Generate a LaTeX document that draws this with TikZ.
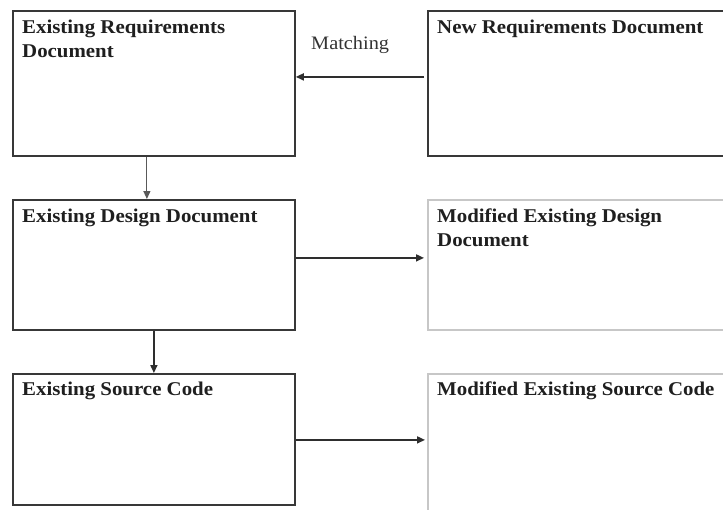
\documentclass[tikz,border=0pt]{standalone}
\usepackage{fontspec}
\setmainfont{Liberation Serif}[FakeStretch=1.07]
\usetikzlibrary{arrows.meta}
\begin{document}
\begin{tikzpicture}[x=1pt,y=-1pt,
  box/.style={draw=black!78,line width=1.8pt,rectangle,inner sep=0pt,anchor=north west,fill=white},
  lightbox/.style={draw=black!22,line width=1.8pt,rectangle,inner sep=0pt,anchor=north west,fill=white},
  txt/.style={anchor=base west,inner sep=0pt,align=left,font=\fontsize{19.5}{24}\selectfont\bfseries,text=black!88},
  lbl/.style={anchor=base west,inner sep=0pt,font=\fontsize{19}{24}\selectfont,text=black!80},
  arr/.style={draw=black!82,line width=1.6pt,-{Triangle[length=8pt,width=7pt]}}]
\useasboundingbox (0,0) rectangle (723,509);
\fill[white] (0,0) rectangle (723,509);
% boxes
\node[box,minimum width=282pt,minimum height=145pt] (req) at (12,10) {};
\node[box,minimum width=310pt,minimum height=145pt] (newreq) at (427,10) {};
\node[box,minimum width=282pt,minimum height=130pt] (design) at (12,199) {};
\node[lightbox,minimum width=310pt,minimum height=130pt] (mdesign) at (427,199) {};
\node[box,minimum width=282pt,minimum height=131pt] (source) at (12,373) {};
\node[lightbox,minimum width=310pt,minimum height=150pt] (msource) at (427,373) {};
% texts (base anchor of a two-line node is its last line)
\node[txt] (reqT) at ([xshift=10pt,yshift=-47pt]req.north west) {Existing Requirements\\Document};
\node[txt] (newreqT) at ([xshift=10pt,yshift=-23pt]newreq.north west) {New Requirements Document};
\node[txt] (designT) at ([xshift=10pt,yshift=-23pt]design.north west) {Existing Design Document};
\node[txt] (mdesignT) at ([xshift=10pt,yshift=-47pt]mdesign.north west) {Modified Existing Design\\Document};
\node[txt] (sourceT) at ([xshift=10pt,yshift=-22pt]source.north west) {Existing Source Code};
\node[txt] (msourceT) at ([xshift=10pt,yshift=-22pt]msource.north west) {Modified Existing Source Code};
\node[lbl] (match) at (311,49) {Matching};
% connectors
\draw[arr] ([xshift=-3pt,yshift=6.5pt]newreq.west) -- ([yshift=6.5pt]req.east);
\draw[arr,line width=1.1pt,draw=black!65] ([xshift=-7pt]req.south) -- ([xshift=-7pt]design.north);
\draw[arr] ([yshift=7pt]design.east) -- ([xshift=-3pt,yshift=7pt]mdesign.west);
\draw[arr] (design.south) -- (source.north);
\draw[arr] ([yshift=-0.5pt]source.east) -- ([xshift=-2pt,yshift=-0.5pt]source.east -| msource.west);
\end{tikzpicture}
\end{document}
